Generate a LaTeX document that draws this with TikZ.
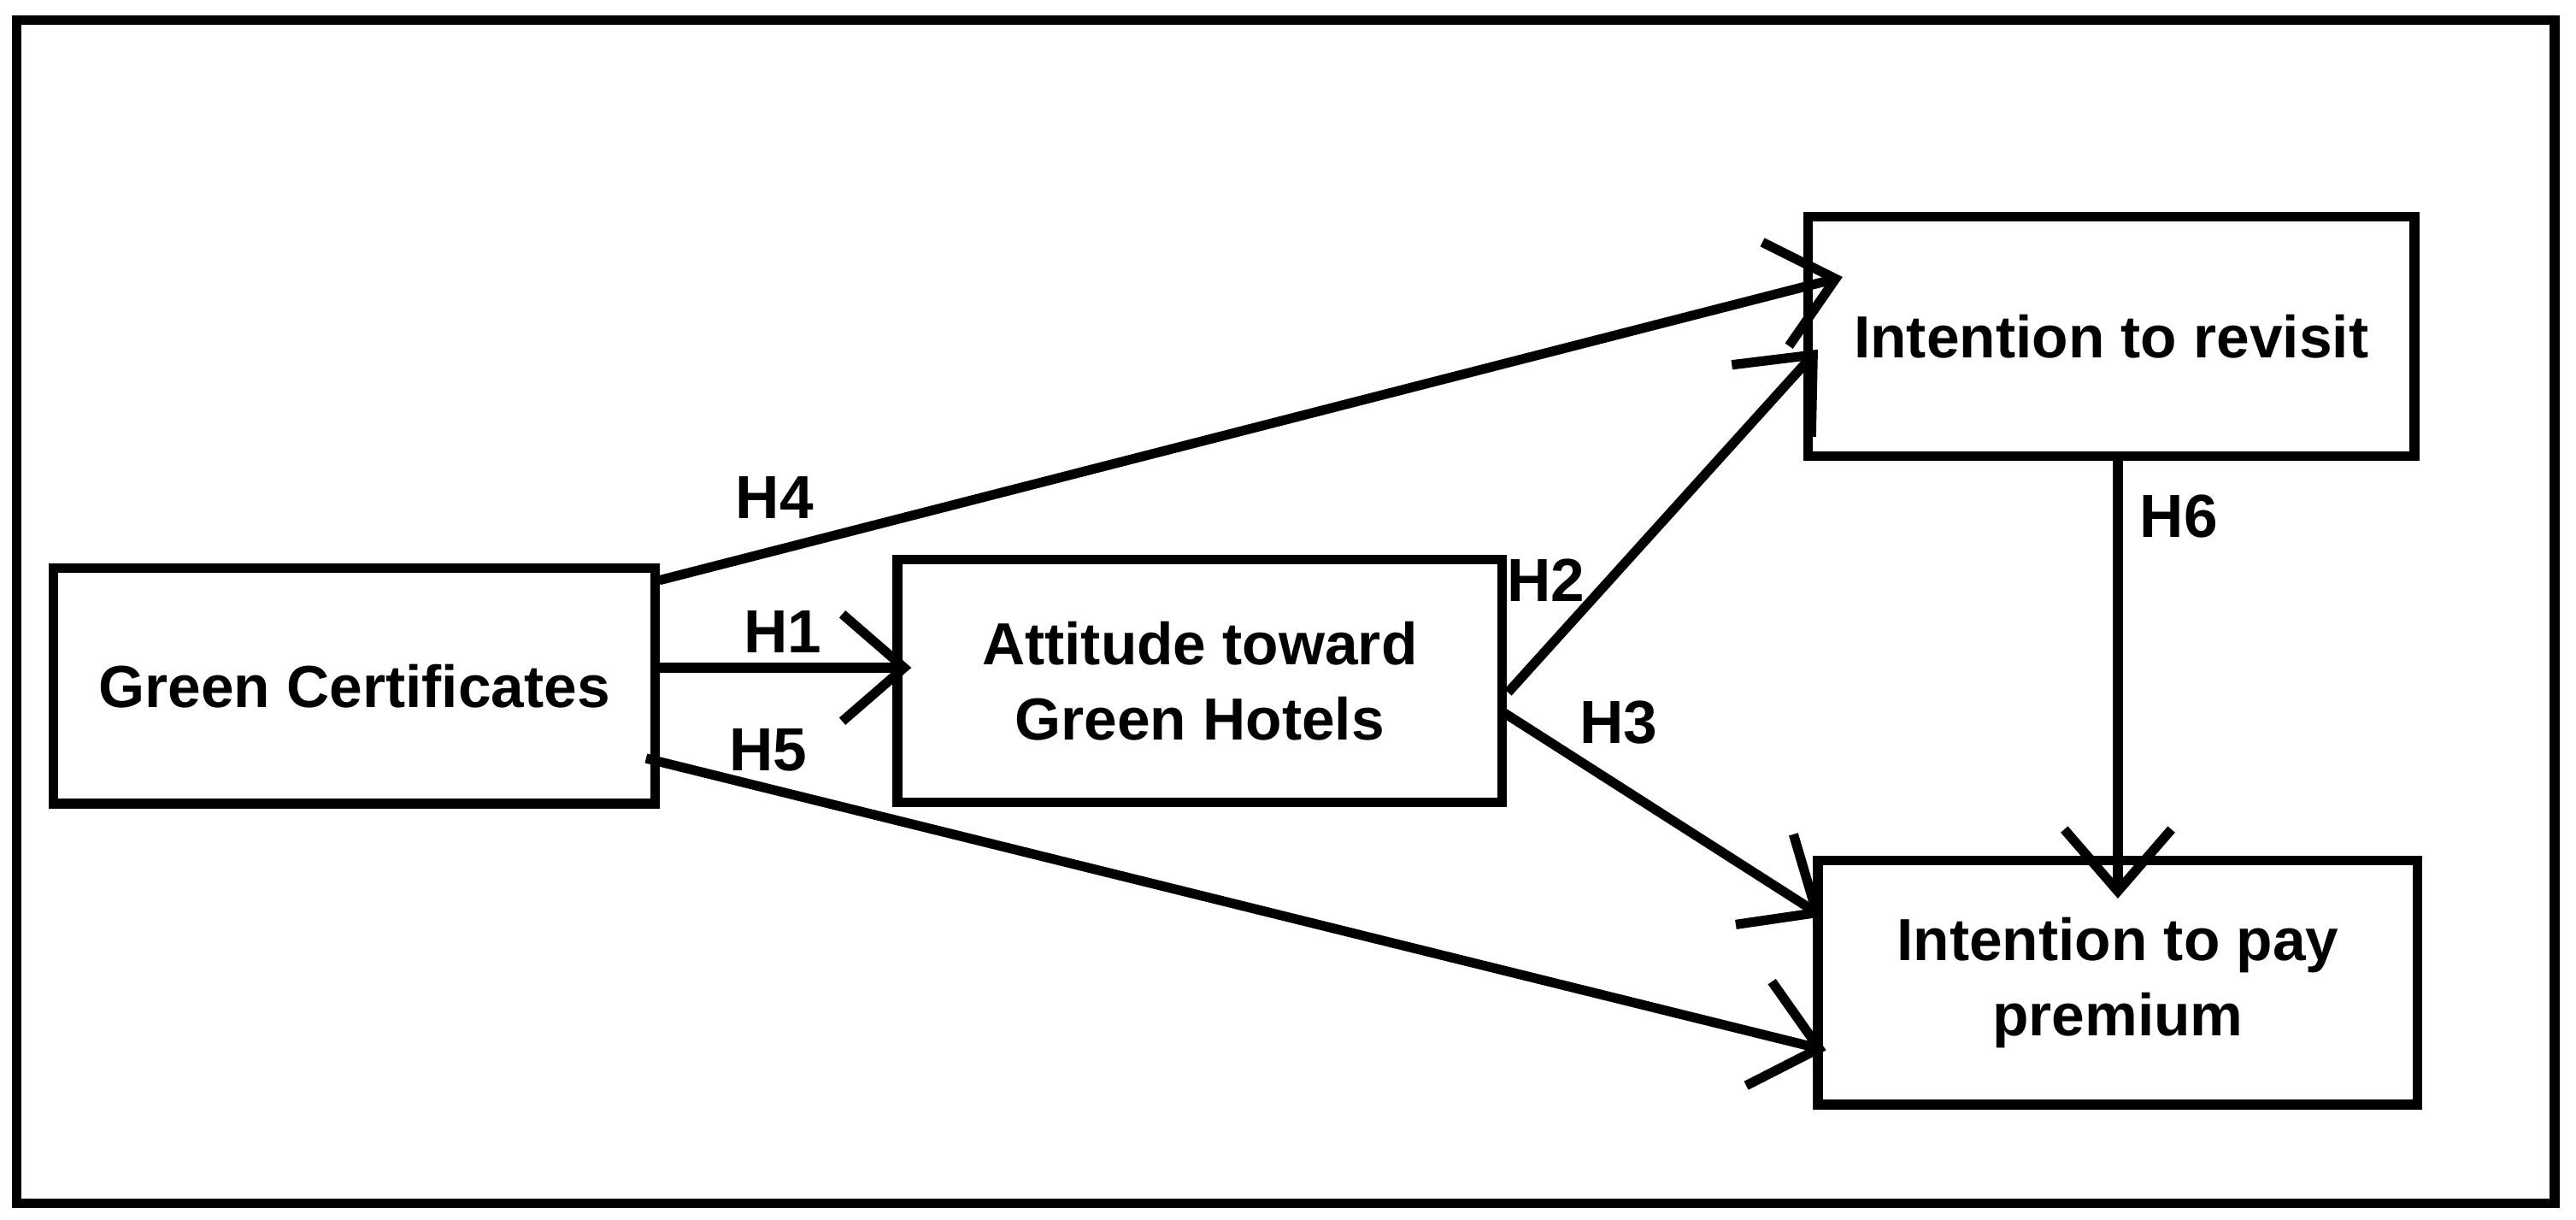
\documentclass[tikz,border=0pt]{standalone}
\usepackage{fontspec}
\setmainfont{Liberation Sans}
\usetikzlibrary{arrows.meta}
\begin{document}
\begin{tikzpicture}[x=0.02cm,y=-0.02cm,
 box/.style={draw,line width=3.3pt,align=center,font=\fontsize{20.5}{26}\selectfont\bfseries,inner sep=0pt},
 arr/.style={line width=3.3pt,-{Straight Barb[length=0.75cm,width=1.3cm,line width=3.3pt]}},
 lab/.style={font=\fontsize{21}{26}\selectfont\bfseries}]
\useasboundingbox (0,0) rectangle (1563,740);
\draw[line width=3.3pt] (10,12) rectangle (1550,730);
\node[box,minimum width=365*0.02cm,minimum height=143*0.02cm] (gc) at (215,416) {Green Certificates};
\node[box,minimum width=367*0.02cm,minimum height=147*0.02cm] (at) at (728,413) {Attitude toward\\Green Hotels};
\node[box,minimum width=368*0.02cm,minimum height=145*0.02cm] (ir) at (1281,204) {Intention to revisit};
\node[box,minimum width=364*0.02cm,minimum height=148*0.02cm] (ip) at (1285,596) {Intention to pay\\premium};
\coordinate (a4) at (400,352); \coordinate (b4) at (1118,168);
\coordinate (a1) at (398,405); \coordinate (b1) at (553,405);
\coordinate (a5) at (392,460); \coordinate (b5) at (1108,637);
\coordinate (a2) at (915,420); \coordinate (b2) at (1103,212);
\coordinate (a3) at (912,432); \coordinate (b3) at (1106,556);
\coordinate (a6) at (1285,277); \coordinate (b6) at (1285,545);
\draw[arr] (a4) -- (b4);
\draw[arr] (a1) -- (b1);
\draw[arr] (a5) -- (b5);
\draw[arr] (a2) -- (b2);
\draw[arr] (a3) -- (b3);
\draw[arr] (a6) -- (b6);
\node[lab] (h4) at (470,302) {H4};
\node[lab] (h1) at (475,383) {H1};
\node[lab] (h5) at (466,455) {H5};
\node[lab] (h2) at (938,352) {H2};
\node[lab] (h3) at (982,438) {H3};
\node[lab] (h6) at (1322,313) {H6};
\end{tikzpicture}
\end{document}
